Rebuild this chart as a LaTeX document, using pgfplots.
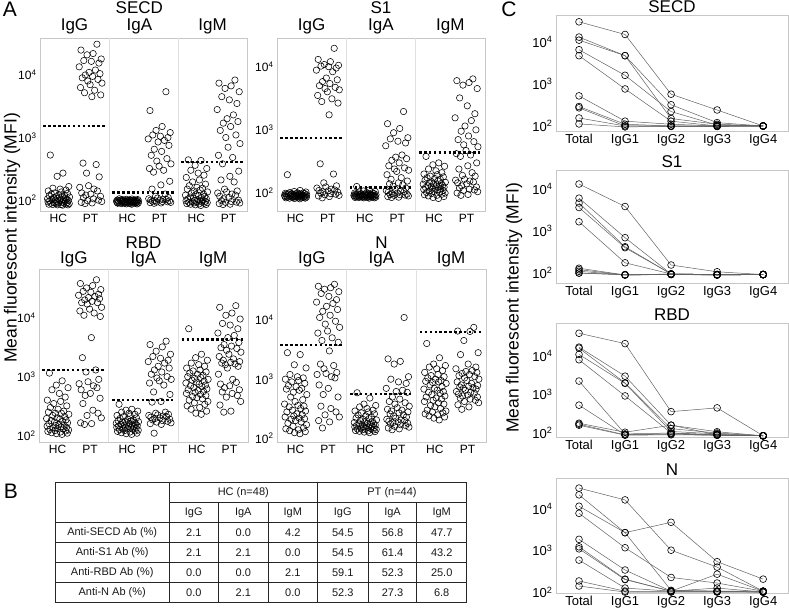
\documentclass[border=0pt]{standalone}
\usepackage{fontspec}
\setmainfont{Liberation Sans}
\usepackage{pgfplots}
\usepackage{pgfplotstable}
\pgfplotsset{compat=1.18}

\pgfplotstableread{
j k GHC GPT AHC APT MHC MPT
-0.32 0.25 525 31000 105 5400 440 8300
0.18 -0.38 270 25000 104 2700 430 7400
-0.05 0.10 240 22000 103 1500 360 6700
0.41 -0.14 165 21000 102 1300 320 6100
-0.22 0.42 155 18000 102 1200 300 5400
0.07 -0.27 150 17000 101 1100 270 4500
0.30 0.03 145 16500 101 1050 250 4000
-0.40 0.33 140 15500 100 1000 230 3500
0.12 -0.45 135 13500 100 950 210 2800
-0.15 0.19 130 12000 100 900 195 2300
0.36 -0.06 128 11000 99 850 180 2000
-0.28 0.37 125 10500 99 750 170 1800
0.02 -0.21 122 10000 99 650 160 1700
0.24 0.08 120 9500 98 600 155 1500
-0.36 -0.33 118 9000 98 520 150 1300
0.15 0.29 115 8500 98 460 145 1100
-0.09 -0.11 113 8000 97 420 140 1000
0.44 0.45 112 7400 97 380 135 800
-0.19 -0.02 110 7000 97 350 130 700
0.28 -0.40 108 6300 96 320 125 520
-0.02 0.16 106 5700 96 300 122 480
-0.43 -0.24 105 5200 96 280 120 380
0.09 0.40 104 4800 95 200 118 290
0.33 0.05 103 4500 95 175 115 240
-0.25 -0.30 102 390 95 150 112 210
0.20 0.22 101 370 94 125 110 195
-0.12 -0.16 100 270 94 115 108 150
0.39 0.34 99 235 94 110 106 140
-0.34 -0.08 98 170 93 108 104 135
0.05 -0.43 97 160 93 105 102 130
0.26 0.13 96 150 93 103 100 125
-0.07 0.27 95 140 92 102 99 120
-0.41 -0.35 94 130 92 100 98 115
0.14 0.01 93 125 92 100 97 110
0.35 -0.19 92 120 91 98 96 105
-0.17 0.39 91 115 91 97 95 100
0.00 -0.28 90 110 91 96 94 98
0.22 0.11 90 105 90 95 93 95
-0.30 0.31 89 100 90 94 92 93
0.43 -0.12 88 98 90 93 91 92
-0.10 0.44 88 95 89 92 90 90
0.31 -0.37 87 92 89 91 89 88
-0.38 0.06 86 90 89 90 88 86
0.11 -0.22 85 88 88 89 87 85
-0.23 0.20 85 nan 88 nan 86 nan
0.38 -0.04 84 nan 87 nan 85 nan
-0.04 0.36 84 nan 87 nan 84 nan
0.17 -0.15 83 nan 86 nan 82 nan
}\secd

\pgfplotstableread{
j k GHC GPT AHC APT MHC MPT
-0.32 0.25 195 19500 127 1950 380 6400
0.18 -0.38 110 13000 112 1250 300 6000
-0.05 0.10 106 12000 108 1050 280 5600
0.41 -0.14 104 10800 106 900 265 5100
-0.22 0.42 102 10500 104 750 240 4500
0.07 -0.27 101 10200 102 720 225 3200
0.30 0.03 100 10000 101 660 210 2400
-0.40 0.33 99 9500 100 620 200 1800
0.12 -0.45 99 8800 99 560 195 1550
-0.15 0.19 98 8300 98 400 185 1400
0.36 -0.06 98 6600 98 370 180 1150
-0.28 0.37 97 6200 97 350 175 1000
0.02 -0.21 97 5800 97 330 170 950
0.24 0.08 96 5400 96 300 165 800
-0.36 -0.33 96 5000 96 270 160 700
0.15 0.29 95 4700 95 250 155 650
-0.09 -0.11 95 4500 95 240 150 580
0.44 0.45 94 4300 94 230 148 540
-0.19 -0.02 94 4000 94 220 145 470
0.28 -0.40 93 3500 93 195 142 420
-0.02 0.16 93 3100 93 175 140 400
-0.43 -0.24 92 2800 92 165 138 380
0.09 0.40 92 2650 92 155 135 300
0.33 0.05 91 1730 92 145 132 270
-0.25 -0.30 91 290 91 140 130 240
0.20 0.22 90 200 91 135 128 210
-0.12 -0.16 90 145 91 128 126 190
0.39 0.34 90 130 90 120 124 185
-0.34 -0.08 89 125 90 115 122 165
0.05 -0.43 89 120 90 110 120 160
0.26 0.13 89 115 89 108 118 155
-0.07 0.27 88 112 89 105 116 150
-0.41 -0.35 88 110 89 103 114 145
0.14 0.01 88 108 88 100 112 140
0.35 -0.19 87 105 88 98 110 130
-0.17 0.39 87 103 88 96 108 125
0.00 -0.28 87 100 87 95 106 120
0.22 0.11 86 98 87 94 104 115
-0.30 0.31 86 96 87 93 102 112
0.43 -0.12 86 94 86 92 100 110
-0.10 0.44 85 92 86 90 98 105
0.31 -0.37 85 90 86 88 96 100
-0.38 0.06 84 88 85 86 94 95
0.11 -0.22 84 84 85 85 92 92
-0.23 0.20 83 nan 85 nan 90 nan
0.38 -0.04 83 nan 84 nan 88 nan
-0.04 0.36 82 nan 84 nan 85 nan
0.17 -0.15 81 nan 83 nan 82 nan
}\sone

\pgfplotstableread{
j k GHC GPT AHC APT MHC MPT
-0.32 0.25 1150 44000 340 4000 6500 16000
0.18 -0.38 850 38000 280 3500 2400 15000
-0.05 0.10 720 35000 270 3200 2100 12000
0.41 -0.14 650 32000 260 2700 1900 11000
-0.22 0.42 600 30000 250 2400 1700 9500
0.07 -0.27 520 28000 240 2200 1600 8000
0.30 0.03 450 27000 230 2050 1500 7500
-0.40 0.33 400 25000 220 1900 1400 6500
0.12 -0.45 380 24000 215 1800 1300 5500
-0.15 0.19 350 23000 210 1700 1250 5000
0.36 -0.06 320 22000 200 1500 1200 4600
-0.28 0.37 300 21000 195 1400 1150 3800
0.02 -0.21 280 20000 190 1300 1100 3500
0.24 0.08 260 19000 185 1200 1050 3300
-0.36 -0.33 250 18000 180 1100 1000 3100
0.15 0.29 240 18000 178 1000 970 3000
-0.09 -0.11 240 17000 175 950 940 2800
0.44 0.45 230 15000 172 900 900 2600
-0.19 -0.02 220 14000 170 850 870 2400
0.28 -0.40 210 13000 168 780 840 2200
-0.02 0.16 200 12000 165 720 810 2000
-0.43 -0.24 195 11000 162 550 780 1900
0.09 0.40 190 10500 160 500 750 1800
0.33 0.05 185 4600 158 380 720 1750
-0.25 -0.30 180 2100 155 370 700 1700
0.20 0.22 175 1300 152 250 680 1650
-0.12 -0.16 170 1200 150 240 650 1600
0.39 0.34 165 900 148 230 620 1500
-0.34 -0.08 160 820 146 225 600 1400
0.05 -0.43 155 760 144 220 580 1100
0.26 0.13 150 700 142 215 560 900
-0.07 0.27 148 650 140 210 540 800
-0.41 -0.35 145 600 138 205 520 750
0.14 0.01 140 520 136 200 500 700
0.35 -0.19 138 480 134 195 480 650
-0.17 0.39 135 430 132 190 460 600
0.00 -0.28 132 350 130 185 440 550
0.22 0.11 130 270 128 180 420 520
-0.30 0.31 128 240 126 175 400 480
0.43 -0.12 125 220 124 170 380 450
-0.10 0.44 122 200 122 165 360 380
0.31 -0.37 120 165 120 160 340 330
-0.38 0.06 118 160 118 155 320 260
0.11 -0.22 115 155 115 110 300 250
-0.23 0.20 112 nan 112 nan 280 nan
0.38 -0.04 110 nan 110 nan 260 nan
-0.04 0.36 108 nan 108 nan 240 nan
0.17 -0.15 105 nan 105 nan 230 nan
}\rbd

\pgfplotstableread{
j k GHC GPT AHC APT MHC MPT
-0.32 0.25 2800 40000 590 11000 4000 7500
0.18 -0.38 2600 37000 480 2200 2300 6500
-0.05 0.10 1750 35000 380 2000 1800 6400
0.41 -0.14 1550 33000 360 1800 1700 4500
-0.22 0.42 1200 30000 340 1100 1600 2800
0.07 -0.27 1100 28000 320 1000 1500 2600
0.30 0.03 1050 25000 300 900 1400 1800
-0.40 0.33 1000 22000 290 850 1300 1600
0.12 -0.45 950 20000 280 700 1200 1500
-0.15 0.19 900 19000 270 650 1150 1400
0.36 -0.06 850 17000 260 620 1100 1350
-0.28 0.37 780 15000 250 600 1050 1300
0.02 -0.21 750 14000 240 500 1000 1250
0.24 0.08 700 12000 230 460 950 1200
-0.36 -0.33 680 11000 220 420 920 1150
0.15 0.29 650 9500 215 400 900 1100
-0.09 -0.11 600 8500 210 380 880 1050
0.44 0.45 550 7500 205 350 850 1000
-0.19 -0.02 500 6500 200 330 800 950
0.28 -0.40 450 6000 195 310 750 900
-0.02 0.16 420 5000 190 300 700 850
-0.43 -0.24 380 4500 185 290 680 800
0.09 0.40 360 4200 180 280 650 780
0.33 0.05 350 3000 178 270 620 760
-0.25 -0.30 340 1800 175 260 600 740
0.20 0.22 320 1700 172 250 580 720
-0.12 -0.16 300 1500 170 240 550 700
0.39 0.34 290 1300 168 230 520 680
-0.34 -0.08 280 1250 165 220 500 650
0.05 -0.43 260 1200 163 210 480 620
0.26 0.13 250 1100 160 205 460 600
-0.07 0.27 240 1050 158 200 440 580
-0.41 -0.35 230 800 156 195 420 560
0.14 0.01 220 700 154 190 400 540
0.35 -0.19 215 550 152 185 380 520
-0.17 0.39 210 500 150 180 360 500
0.00 -0.28 200 350 148 175 340 480
0.22 0.11 190 320 146 170 320 460
-0.30 0.31 180 280 144 165 300 440
0.43 -0.12 170 250 142 160 290 420
-0.10 0.44 160 230 140 155 280 400
0.31 -0.37 150 200 138 150 270 370
-0.38 0.06 145 190 136 145 260 340
0.11 -0.22 140 150 134 140 250 310
-0.23 0.20 135 nan 132 nan 240 nan
0.38 -0.04 130 nan 130 nan 230 nan
-0.04 0.36 125 nan 128 nan 220 nan
0.17 -0.15 120 nan 125 nan 205 nan
}\nprot

\newcommand\fTitle{\fontsize{17}{17}\selectfont}
\newcommand\fTitleB{\fontsize{17}{15.5}\selectfont}
\newcommand\fTick{\fontsize{12}{13}\selectfont}
\newcommand\fCTick{\fontsize{13}{14}\selectfont}
\newcommand\fTab{\fontsize{11}{12}\selectfont}

\pgfplotsset{
  scat/.style={only marks, mark=o, mark size=3.2pt, mark options={draw=black, line width=0.55pt}},
  cutoff/.style={black, line width=2.5pt, dash pattern=on 2.5pt off 2.4pt},
  cline/.style={color=black!62, line width=0.5pt, mark=o, mark size=3.4pt,
    mark options={draw=black, line width=0.6pt, solid}},
}

\begin{document}
\begin{tikzpicture}
\path[use as bounding box] (0pt,0pt) rectangle (789pt,609pt);

% ---------- Panel A ----------
\node[font=\fontsize{21}{22}\selectfont] at (10pt,600pt) {A};
\node[rotate=90, font=\fontsize{17.5}{19}\selectfont] at (12pt,371pt) {Mean fluorescent intensity (MFI)};

% SECD
\begin{axis}[scale only axis, ymode=log, xmin=0, xmax=9,
    axis line style={draw=black!22}, major tick length=0pt, minor tick length=0pt,
    xtick={0.8,2.2,3.8,5.2,6.8,8.2}, xticklabels={HC,PT,HC,PT,HC,PT},
    ytick={100,1000,10000},
    yticklabels={10\textsuperscript{2},10\textsuperscript{3},10\textsuperscript{4}},
    ticklabel style={font=\fTick},
    extra x ticks={3,6}, extra x tick labels={},
    extra x tick style={grid=major, major grid style={black!12, line width=0.5pt}},
    clip=false,
    at={(40pt,398pt)}, anchor=south west, width=207pt, height=173pt, ymin=67, ymax=39000]
\addplot[scat] table[x expr=0.8+1.1*\thisrow{j}, y=GHC]{\secd};
\addplot[scat] table[x expr=2.2+1.1*\thisrow{k}, y=GPT]{\secd};
\addplot[scat] table[x expr=3.8+1.1*\thisrow{j}, y=AHC]{\secd};
\addplot[scat] table[x expr=5.2+1.1*\thisrow{k}, y=APT]{\secd};
\addplot[scat] table[x expr=6.8+1.1*\thisrow{j}, y=MHC]{\secd};
\addplot[scat] table[x expr=8.2+1.1*\thisrow{k}, y=MPT]{\secd};
\addplot[cutoff] coordinates {(0.15,1520) (2.85,1520)};
\addplot[cutoff] coordinates {(3.15,133) (5.85,133)};
\addplot[cutoff] coordinates {(6.15,410) (8.85,410)};
\node[anchor=south, inner sep=0pt, font=\fTitle, yshift=3.4pt] at (rel axis cs:0.1667,1) {IgG};
\node[anchor=south, inner sep=0pt, font=\fTitle, yshift=3.4pt, align=center] at (rel axis cs:0.48,1) {SECD\\IgA};
\node[anchor=south, inner sep=0pt, font=\fTitle, yshift=3.4pt] at (rel axis cs:0.8333,1) {IgM};
\end{axis}

% S1
\begin{axis}[scale only axis, ymode=log, xmin=0, xmax=9,
    axis line style={draw=black!22}, major tick length=0pt, minor tick length=0pt,
    xtick={0.8,2.2,3.8,5.2,6.8,8.2}, xticklabels={HC,PT,HC,PT,HC,PT},
    ytick={100,1000,10000},
    yticklabels={10\textsuperscript{2},10\textsuperscript{3},10\textsuperscript{4}},
    ticklabel style={font=\fTick},
    extra x ticks={3,6}, extra x tick labels={},
    extra x tick style={grid=major, major grid style={black!12, line width=0.5pt}},
    clip=false,
    at={(277pt,398pt)}, anchor=south west, width=208pt, height=173pt, ymin=52, ymax=28400]
\addplot[scat] table[x expr=0.8+1.1*\thisrow{j}, y=GHC]{\sone};
\addplot[scat] table[x expr=2.2+1.1*\thisrow{k}, y=GPT]{\sone};
\addplot[scat] table[x expr=3.8+1.1*\thisrow{j}, y=AHC]{\sone};
\addplot[scat] table[x expr=5.2+1.1*\thisrow{k}, y=APT]{\sone};
\addplot[scat] table[x expr=6.8+1.1*\thisrow{j}, y=MHC]{\sone};
\addplot[scat] table[x expr=8.2+1.1*\thisrow{k}, y=MPT]{\sone};
\addplot[cutoff] coordinates {(0.15,740) (2.85,740)};
\addplot[cutoff] coordinates {(3.15,123) (5.85,123)};
\addplot[cutoff] coordinates {(6.15,440) (8.85,440)};
\node[anchor=south, inner sep=0pt, font=\fTitle, yshift=3.4pt] at (rel axis cs:0.1667,1) {IgG};
\node[anchor=south, inner sep=0pt, font=\fTitle, yshift=3.4pt, align=center] at (rel axis cs:0.5,1) {S1\\IgA};
\node[anchor=south, inner sep=0pt, font=\fTitle, yshift=3.4pt] at (rel axis cs:0.8333,1) {IgM};
\end{axis}

% RBD
\begin{axis}[scale only axis, ymode=log, xmin=0, xmax=9,
    axis line style={draw=black!22}, major tick length=0pt, minor tick length=0pt,
    xtick={0.8,2.2,3.8,5.2,6.8,8.2}, xticklabels={HC,PT,HC,PT,HC,PT},
    ytick={100,1000,10000},
    yticklabels={10\textsuperscript{2},10\textsuperscript{3},10\textsuperscript{4}},
    ticklabel style={font=\fTick},
    extra x ticks={3,6}, extra x tick labels={},
    extra x tick style={grid=major, major grid style={black!12, line width=0.5pt}},
    clip=false,
    at={(39pt,167pt)}, anchor=south west, width=209pt, height=173pt, ymin=78, ymax=67000]
\addplot[scat] table[x expr=0.8+1.1*\thisrow{j}, y=GHC]{\rbd};
\addplot[scat] table[x expr=2.2+1.1*\thisrow{k}, y=GPT]{\rbd};
\addplot[scat] table[x expr=3.8+1.1*\thisrow{j}, y=AHC]{\rbd};
\addplot[scat] table[x expr=5.2+1.1*\thisrow{k}, y=APT]{\rbd};
\addplot[scat] table[x expr=6.8+1.1*\thisrow{j}, y=MHC]{\rbd};
\addplot[scat] table[x expr=8.2+1.1*\thisrow{k}, y=MPT]{\rbd};
\addplot[cutoff] coordinates {(0.15,1300) (2.85,1300)};
\addplot[cutoff] coordinates {(3.15,400) (5.85,400)};
\addplot[cutoff] coordinates {(6.15,4300) (8.85,4300)};
\node[anchor=south, inner sep=0pt, font=\fTitleB, yshift=1.6pt] at (rel axis cs:0.1667,1) {IgG};
\node[anchor=south, inner sep=0pt, font=\fTitleB, yshift=1.6pt, align=center] at (rel axis cs:0.5,1) {RBD\\IgA};
\node[anchor=south, inner sep=0pt, font=\fTitleB, yshift=1.6pt] at (rel axis cs:0.8333,1) {IgM};
\end{axis}

% N
\begin{axis}[scale only axis, ymode=log, xmin=0, xmax=9,
    axis line style={draw=black!22}, major tick length=0pt, minor tick length=0pt,
    xtick={0.8,2.2,3.8,5.2,6.8,8.2}, xticklabels={HC,PT,HC,PT,HC,PT},
    ytick={100,1000,10000},
    yticklabels={10\textsuperscript{2},10\textsuperscript{3},10\textsuperscript{4}},
    ticklabel style={font=\fTick},
    extra x ticks={3,6}, extra x tick labels={},
    extra x tick style={grid=major, major grid style={black!12, line width=0.5pt}},
    clip=false,
    at={(277pt,167pt)}, anchor=south west, width=209pt, height=173pt, ymin=87, ymax=72500]
\addplot[scat] table[x expr=0.8+1.1*\thisrow{j}, y=GHC]{\nprot};
\addplot[scat] table[x expr=2.2+1.1*\thisrow{k}, y=GPT]{\nprot};
\addplot[scat] table[x expr=3.8+1.1*\thisrow{j}, y=AHC]{\nprot};
\addplot[scat] table[x expr=5.2+1.1*\thisrow{k}, y=APT]{\nprot};
\addplot[scat] table[x expr=6.8+1.1*\thisrow{j}, y=MHC]{\nprot};
\addplot[scat] table[x expr=8.2+1.1*\thisrow{k}, y=MPT]{\nprot};
\addplot[cutoff] coordinates {(0.15,3800) (2.85,3800)};
\addplot[cutoff] coordinates {(3.15,565) (5.85,565)};
\addplot[cutoff] coordinates {(6.15,6300) (8.85,6300)};
\node[anchor=south, inner sep=0pt, font=\fTitleB, yshift=1.6pt] at (rel axis cs:0.1667,1) {IgG};
\node[anchor=south, inner sep=0pt, font=\fTitleB, yshift=1.6pt, align=center] at (rel axis cs:0.5,1) {N\\IgA};
\node[anchor=south, inner sep=0pt, font=\fTitleB, yshift=1.6pt] at (rel axis cs:0.8333,1) {IgM};
\end{axis}

% ---------- Panel B ----------
\node[font=\fontsize{21}{22}\selectfont] at (11pt,118pt) {B};
\begin{scope}[black!85, line width=0.5pt]
\draw (55pt,126.3pt) rectangle (466.7pt,6.3pt);
\draw (169.3pt,106.3pt) -- (466.7pt,106.3pt);
\foreach \yy in {86.3,66.3,46.3,26.3} \draw (55pt,\yy pt) -- (466.7pt,\yy pt);
\foreach \xx in {169.3,317.3} \draw (\xx pt,126.3pt) -- (\xx pt,6.3pt);
\foreach \xx in {218.3,268.3,368.3,416.7} \draw (\xx pt,106.3pt) -- (\xx pt,6.3pt);
\end{scope}
\begin{scope}[every node/.style={font=\fTab, text=black!90}]
\node at (243.3pt,116.3pt) {HC (n=48)};
\node at (392pt,116.3pt) {PT (n=44)};
\node at (193.8pt,96.3pt) {IgG};
\node at (243.3pt,96.3pt) {IgA};
\node at (292.8pt,96.3pt) {IgM};
\node at (342.8pt,96.3pt) {IgG};
\node at (392.5pt,96.3pt) {IgA};
\node at (441.7pt,96.3pt) {IgM};
\foreach \lab/\a/\b/\c/\d/\e/\f [count=\i] in {
  Anti-SECD Ab (\%)/2.1/0.0/4.2/54.5/56.8/47.7,
  Anti-S1 Ab (\%)/2.1/2.1/0.0/54.5/61.4/43.2,
  Anti-RBD Ab (\%)/0.0/0.0/2.1/59.1/52.3/25.0,
  Anti-N Ab (\%)/0.0/2.1/0.0/52.3/27.3/6.8}{
  \pgfmathsetmacro\yy{96.3-20*\i}
  \node at (112.2pt,\yy pt) {\lab};
  \node at (193.8pt,\yy pt) {\a};
  \node at (243.3pt,\yy pt) {\b};
  \node at (292.8pt,\yy pt) {\c};
  \node at (342.8pt,\yy pt) {\d};
  \node at (392.5pt,\yy pt) {\e};
  \node at (441.7pt,\yy pt) {\f};
}
\end{scope}

% ---------- Panel C ----------
\node[font=\fontsize{21}{22}\selectfont] at (509pt,600pt) {C};
\node[rotate=90, font=\fontsize{17.5}{19}\selectfont] at (514pt,301pt) {Mean fluorescent intensity (MFI)};

% SECD
\begin{axis}[scale only axis, ymode=log, xmin=-0.5, xmax=4.54,
    axis line style={draw=black!22}, major tick length=0pt, minor tick length=0pt,
    xtick={0,1,2,3,4}, xticklabels={Total,IgG1,IgG2,IgG3,IgG4},
    ytick={100,1000,10000},
    yticklabels={10\textsuperscript{2},10\textsuperscript{3},10\textsuperscript{4}},
    ticklabel style={font=\fCTick}, clip=false,
    at={(556pt,478pt)}, anchor=south west, width=232pt, height=116pt, ymin=76, ymax=43600]
\addplot[cline] coordinates {(0,30000) (1,15000) (2,570) (3,240) (4,100)};
\addplot[cline] coordinates {(0,13000) (1,4700) (2,320) (3,120) (4,100)};
\addplot[cline] coordinates {(0,11000) (1,4700) (2,150) (3,110) (4,100)};
\addplot[cline] coordinates {(0,6500) (1,1600) (2,220) (3,105) (4,100)};
\addplot[cline] coordinates {(0,4700) (1,760) (2,130) (3,100) (4,100)};
\addplot[cline] coordinates {(0,520) (1,130) (2,110) (3,100) (4,100)};
\addplot[cline] coordinates {(0,290) (1,110) (2,100) (3,100) (4,100)};
\addplot[cline] coordinates {(0,270) (1,100) (2,100) (3,98) (4,100)};
\addplot[cline] coordinates {(0,155) (1,100) (2,98) (3,98) (4,100)};
\addplot[cline] coordinates {(0,112) (1,95) (2,98) (3,98) (4,100)};
\node[anchor=base, font=\fTitle, yshift=2pt] at (rel axis cs:0.5,1) {SECD};
\end{axis}

% S1
\begin{axis}[scale only axis, ymode=log, xmin=-0.5, xmax=4.54,
    axis line style={draw=black!22}, major tick length=0pt, minor tick length=0pt,
    xtick={0,1,2,3,4}, xticklabels={Total,IgG1,IgG2,IgG3,IgG4},
    ytick={100,1000,10000},
    yticklabels={10\textsuperscript{2},10\textsuperscript{3},10\textsuperscript{4}},
    ticklabel style={font=\fCTick}, clip=false,
    at={(556pt,326pt)}, anchor=south west, width=232pt, height=113pt, ymin=58, ymax=28000]
\addplot[cline] coordinates {(0,13000) (1,3800) (2,155) (3,107) (4,92)};
\addplot[cline] coordinates {(0,6000) (1,690) (2,95) (3,92) (4,92)};
\addplot[cline] coordinates {(0,4600) (1,420) (2,95) (3,92) (4,92)};
\addplot[cline] coordinates {(0,3600) (1,400) (2,95) (3,92) (4,92)};
\addplot[cline] coordinates {(0,1650) (1,175) (2,95) (3,92) (4,92)};
\addplot[cline] coordinates {(0,130) (1,90) (2,95) (3,90) (4,92)};
\addplot[cline] coordinates {(0,120) (1,90) (2,93) (3,90) (4,92)};
\addplot[cline] coordinates {(0,110) (1,90) (2,93) (3,90) (4,92)};
\addplot[cline] coordinates {(0,100) (1,92) (2,93) (3,92) (4,92)};
\addplot[cline] coordinates {(0,100) (1,90) (2,92) (3,90) (4,92)};
\node[anchor=base, font=\fTitle, yshift=2pt] at (rel axis cs:0.5,1) {S1};
\end{axis}

% RBD
\begin{axis}[scale only axis, ymode=log, xmin=-0.5, xmax=4.54,
    axis line style={draw=black!22}, major tick length=0pt, minor tick length=0pt,
    xtick={0,1,2,3,4}, xticklabels={Total,IgG1,IgG2,IgG3,IgG4},
    ytick={100,1000,10000},
    yticklabels={10\textsuperscript{2},10\textsuperscript{3},10\textsuperscript{4}},
    ticklabel style={font=\fCTick}, clip=false,
    at={(556pt,172pt)}, anchor=south west, width=232pt, height=114pt, ymin=79, ymax=72000]
\addplot[cline] coordinates {(0,39000) (1,21000) (2,360) (3,450) (4,85)};
\addplot[cline] coordinates {(0,17000) (1,3000) (2,160) (3,108) (4,85)};
\addplot[cline] coordinates {(0,16000) (1,2000) (2,130) (3,100) (4,85)};
\addplot[cline] coordinates {(0,11000) (1,1950) (2,110) (3,95) (4,85)};
\addplot[cline] coordinates {(0,8000) (1,920) (2,100) (3,90) (4,85)};
\addplot[cline] coordinates {(0,2240) (1,95) (2,100) (3,90) (4,85)};
\addplot[cline] coordinates {(0,530) (1,90) (2,95) (3,88) (4,85)};
\addplot[cline] coordinates {(0,180) (1,105) (2,160) (3,90) (4,85)};
\addplot[cline] coordinates {(0,170) (1,90) (2,95) (3,88) (4,85)};
\addplot[cline] coordinates {(0,160) (1,88) (2,90) (3,88) (4,85)};
\node[anchor=base, font=\fTitle, yshift=2pt] at (rel axis cs:0.5,1) {RBD};
\end{axis}

% N
\begin{axis}[scale only axis, ymode=log, xmin=-0.5, xmax=4.54,
    axis line style={draw=black!22}, major tick length=0pt, minor tick length=0pt,
    xtick={0,1,2,3,4}, xticklabels={Total,IgG1,IgG2,IgG3,IgG4},
    ytick={100,1000,10000},
    yticklabels={10\textsuperscript{2},10\textsuperscript{3},10\textsuperscript{4}},
    ticklabel style={font=\fCTick}, clip=false,
    at={(556pt,16pt)}, anchor=south west, width=232pt, height=115pt, ymin=95, ymax=56000]
\addplot[cline] coordinates {(0,32000) (1,16600) (2,1020) (3,400) (4,105)};
\addplot[cline] coordinates {(0,22000) (1,2700) (2,4800) (3,540) (4,205)};
\addplot[cline] coordinates {(0,11700) (1,2700) (2,110) (3,105) (4,105)};
\addplot[cline] coordinates {(0,7900) (1,1170) (2,225) (3,165) (4,105)};
\addplot[cline] coordinates {(0,1860) (1,340) (2,105) (3,270) (4,105)};
\addplot[cline] coordinates {(0,1230) (1,205) (2,105) (3,125) (4,100)};
\addplot[cline] coordinates {(0,1100) (1,200) (2,105) (3,105) (4,100)};
\addplot[cline] coordinates {(0,590) (1,125) (2,105) (3,105) (4,100)};
\addplot[cline] coordinates {(0,185) (1,105) (2,102) (3,102) (4,100)};
\addplot[cline] coordinates {(0,140) (1,100) (2,100) (3,100) (4,100)};
\node[anchor=base, font=\fTitle, yshift=2pt] at (rel axis cs:0.5,1) {N};
\end{axis}
\end{tikzpicture}
\end{document}
